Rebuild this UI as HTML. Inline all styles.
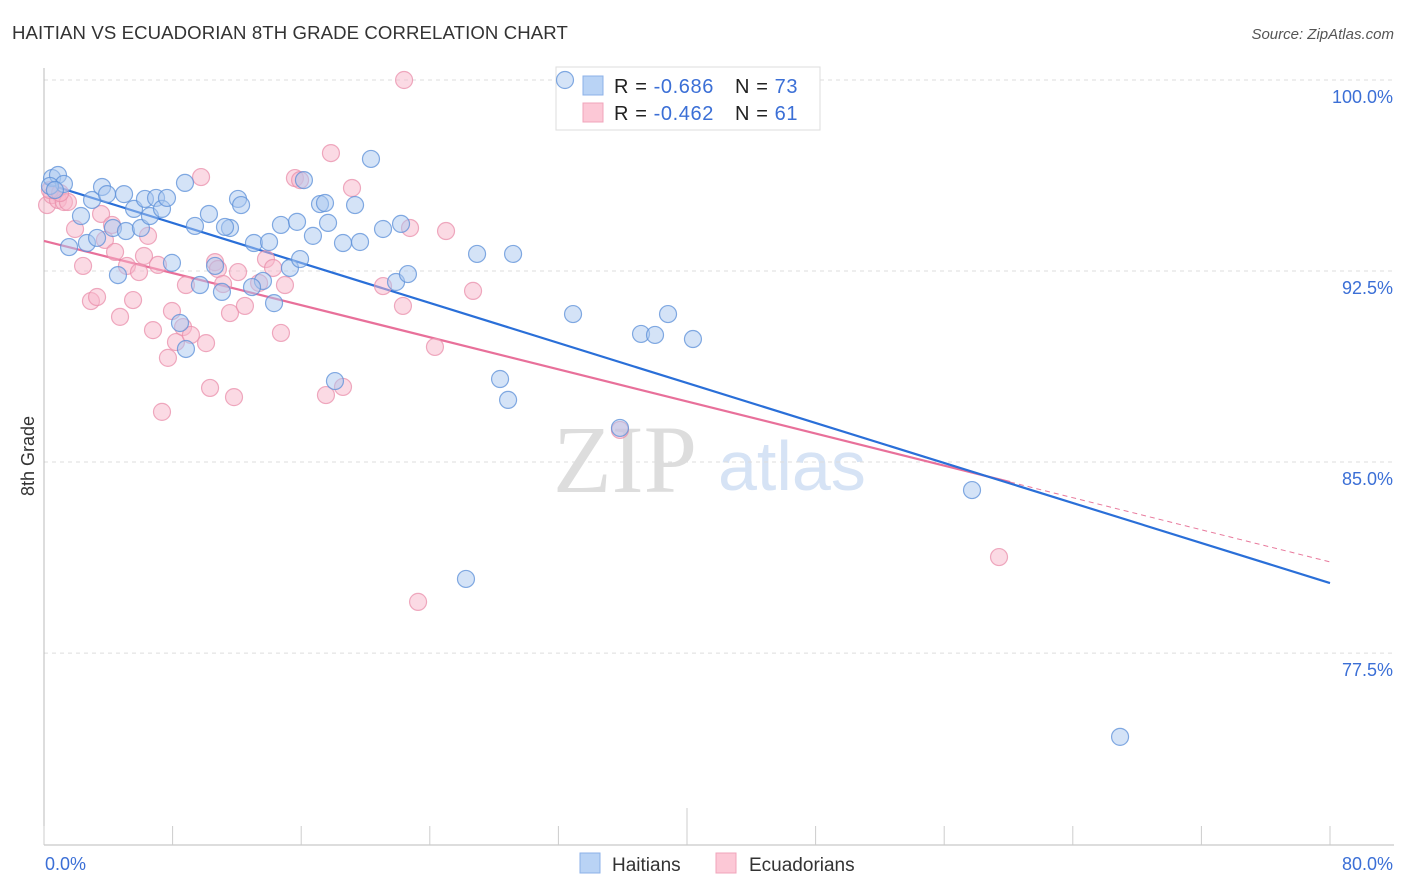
<!DOCTYPE html>
<html><head><meta charset="utf-8"><style>
body{margin:0;background:#fff;font-family:"Liberation Sans",sans-serif;}
svg{display:block}
</style></head><body>
<svg id="chart" width="1406" height="892" viewBox="0 0 1406 892">
<text x="12" y="39" font-size="18.6" fill="#333" letter-spacing="0.1">HAITIAN VS ECUADORIAN 8TH GRADE CORRELATION CHART</text>
<text x="1394" y="39" font-size="15" fill="#555" text-anchor="end" font-style="italic">Source: ZipAtlas.com</text>
<g>
<text x="553" y="492" font-size="96" fill="#ddd" font-family="Liberation Serif,serif">ZIP</text>
<text x="718" y="490" font-size="70" fill="#d6e3f5">atlas</text>
</g>
<g id="grid"></g>
<g id="axes"></g>
<text transform="translate(34,456) rotate(-90)" font-size="18" fill="#333" text-anchor="middle">8th Grade</text>
<g id="lines"></g>
<g>
<rect x="556" y="67" width="264" height="63" fill="#fff" stroke="#ddd"/>
<rect x="583" y="76" width="20" height="19" fill="#b9d3f5" stroke="#8cb2e8"/>
<rect x="583" y="103" width="20" height="19" fill="#fcc8d6" stroke="#f0a4bb"/>
<text x="614" y="93" font-size="20" letter-spacing="0.6" fill="#222">R = <tspan fill="#3b6fd6">-0.686</tspan></text>
<text x="735" y="93" font-size="20" letter-spacing="0.6" fill="#222">N = <tspan fill="#3b6fd6">73</tspan></text>
<text x="614" y="120" font-size="20" letter-spacing="0.6" fill="#222">R = <tspan fill="#3b6fd6">-0.462</tspan></text>
<text x="735" y="120" font-size="20" letter-spacing="0.6" fill="#222">N = <tspan fill="#3b6fd6"> 61</tspan></text>
</g>
<g id="points"></g>
<g>
<rect x="580" y="853" width="20" height="20" fill="#b9d3f5" stroke="#8cb2e8"/>
<text x="612" y="871" font-size="19" fill="#333">Haitians</text>
<rect x="716" y="853" width="20" height="20" fill="#fcc8d6" stroke="#f0a4bb"/>
<text x="749" y="871" font-size="19" fill="#333">Ecuadorians</text>
</g>
</svg>
<script>
const yTicks=[100,92.5,85,77.5];
const yTickLabels=["100.0%","92.5%","85.0%","77.5%"];
const xTickLabels=["0.0%","80.0%"];
const blueX=[0.50,0.87,1.24,0.37,0.68,2.30,1.56,2.67,2.99,3.30,3.61,3.92,4.60,4.98,4.29,5.10,5.60,6.28,6.03,6.59,6.97,7.34,7.65,7.96,8.46,8.83,8.77,9.39,9.70,10.26,10.64,11.07,11.57,11.26,12.07,12.26,13.06,13.62,12.94,14.00,14.31,14.74,15.30,15.74,15.93,16.17,16.73,17.17,17.48,17.67,18.60,19.35,19.66,18.10,20.34,21.09,21.90,22.21,22.64,26.25,26.94,28.37,28.87,29.18,32.41,32.91,35.83,37.14,38.01,38.82,40.37,57.73,66.94];
const blueY=[96.15,96.27,95.92,95.84,95.68,94.66,93.44,93.60,95.29,93.80,95.80,95.52,92.34,95.52,94.19,94.07,94.94,95.33,94.19,94.66,95.37,94.94,95.37,92.82,90.46,89.44,95.96,94.27,91.95,94.74,92.70,91.68,94.19,94.23,95.33,95.09,93.60,92.11,91.87,93.64,91.24,94.31,92.62,94.43,92.97,96.07,93.88,95.13,95.17,94.39,93.60,95.09,93.64,88.18,96.90,94.15,92.07,94.35,92.38,80.41,93.17,88.26,87.44,93.17,100,90.81,86.34,90.03,89.99,90.81,89.83,83.90,74.21];
const pinkX=[0.19,0.50,0.87,1.24,1.49,0.37,1.93,2.43,2.92,3.30,3.55,3.79,4.23,4.42,4.73,5.16,5.54,5.91,6.22,6.47,6.78,7.09,7.34,7.71,7.96,8.21,8.65,8.83,9.14,9.77,10.08,10.33,10.64,10.82,11.14,11.57,11.82,12.07,12.50,13.38,13.81,14.25,14.74,14.99,15.61,15.93,17.54,17.85,18.60,19.16,21.09,22.33,22.40,22.77,23.27,24.32,25.01,26.69,35.83,59.41,1.00];
const pinkY=[95.09,95.48,95.29,95.21,95.21,95.68,94.15,92.70,91.32,91.48,94.74,93.72,94.31,93.25,90.70,92.70,91.36,92.46,93.09,93.88,90.18,92.74,86.97,89.09,90.93,89.71,90.30,91.95,89.99,96.19,89.67,87.91,92.85,92.58,91.99,90.85,87.55,92.46,91.13,92.03,92.97,92.62,90.07,91.95,96.15,96.07,87.63,97.13,87.95,95.76,91.91,91.13,100,94.19,79.51,89.52,94.07,91.72,86.26,81.27,95.56];
const blueFit=[95.96,80.25];
const pinkFit=[93.68,81.08];
const pinkSolidEnd=60.1;

const NS="http://www.w3.org/2000/svg";
const X0=44,X1=1330,Y100=80,PXPER=25.47;
const sx=v=>X0+(v/80)*(X1-X0);
const sy=v=>Y100+(100-v)*PXPER;
function mk(tag,attrs,parent){const e=document.createElementNS(NS,tag);for(const k in attrs)e.setAttribute(k,attrs[k]);parent.appendChild(e);return e;}
const grid=document.getElementById('grid'),axes=document.getElementById('axes'),lines=document.getElementById('lines'),pts=document.getElementById('points');
yTicks.forEach((t,i)=>{
 const l=mk('line',{x1:X0,x2:1394,y1:sy(t),y2:sy(t),stroke:'#ddd','stroke-dasharray':'4,4'},grid);
 
 
 const tx=mk('text',{x:1393,y:sy(t)+23,'font-size':18,fill:'#3b6fd6','text-anchor':'end'},grid);
 tx.textContent=yTickLabels[i];
 
 
});
const ya=mk('line',{x1:X0,x2:X0,y1:68,y2:845,stroke:'#bbb'},axes);


const xa=mk('line',{x1:X0,x2:1394,y1:845,y2:845,stroke:'#bbb'},axes);


for(let i=0;i<=10;i++){
 const v=i*8;
 const tk=mk('line',{x1:sx(v),x2:sx(v),y1:i==5?808:826,y2:845,stroke:'#ccc'},axes);
 
 
}
[[0,'start'],[80,'end']].forEach((p,i)=>{
 const t=mk('text',{x:i?1393:45,y:870,'font-size':18,fill:'#3b6fd6','text-anchor':p[1]},axes);
 t.textContent=xTickLabels[i];
 
 
});
function drawPts(xs,ys,fill,stroke,name){
 xs.forEach((x,i)=>{
  const c=mk('circle',{cx:sx(x),cy:sy(ys[i]),r:8.5,fill:fill,'fill-opacity':0.5,stroke:stroke,'stroke-opacity':0.75,'stroke-width':1.2},pts);
  
  
 });
}
drawPts(pinkX,pinkY,'#f7b6c9','#ea8fab','ecuadorian-point');
drawPts(blueX,blueY,'#a9c8f0','#5b8fd8','haitian-point');
const pAt=x=>pinkFit[0]+(pinkFit[1]-pinkFit[0])*x/80;
const pd=mk('line',{x1:sx(pinkSolidEnd),y1:sy(pAt(pinkSolidEnd)),x2:sx(80),y2:sy(pinkFit[1]),stroke:'#e8799c','stroke-width':1,'stroke-dasharray':'5,4'},lines);


const pl=mk('line',{x1:sx(0),y1:sy(pinkFit[0]),x2:sx(pinkSolidEnd),y2:sy(pAt(pinkSolidEnd)),stroke:'#e8709a','stroke-width':2.2},lines);


const bl=mk('line',{x1:sx(0),y1:sy(blueFit[0]),x2:sx(80),y2:sy(blueFit[1]),stroke:'#2a6fd8','stroke-width':2.2},lines);


</script>
</body></html>
